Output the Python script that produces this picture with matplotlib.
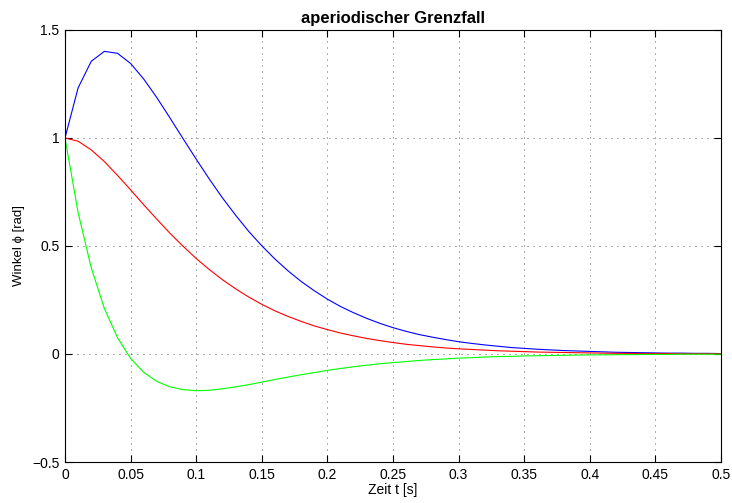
import numpy as np
import matplotlib.pyplot as plt

plt.rcParams['font.family'] = ['Liberation Sans', 'DejaVu Sans']
plt.rcParams['font.size'] = 10

# Zeitachse, Schrittweite 0.01 s
t = np.arange(51) * 0.01

# Winkel phi(t) fuer drei Anfangsgeschwindigkeiten
phi_pos = [1.000, 1.232, 1.355, 1.401, 1.392, 1.345, 1.273, 1.187, 1.093, 0.997,
           0.902, 0.810, 0.723, 0.643, 0.568, 0.501, 0.440, 0.385, 0.336, 0.293,
           0.254, 0.220, 0.191, 0.165, 0.142, 0.122, 0.105, 0.090, 0.078, 0.067,
           0.057, 0.049, 0.042, 0.036, 0.030, 0.026, 0.022, 0.019, 0.016, 0.014,
           0.012, 0.010, 0.008, 0.007, 0.006, 0.005, 0.004, 0.004, 0.003, 0.003,
           0.002]
phi_null = [1.000, 0.985, 0.945, 0.891, 0.827, 0.760, 0.691, 0.624, 0.559, 0.499,
            0.442, 0.391, 0.344, 0.302, 0.264, 0.230, 0.200, 0.174, 0.151, 0.130,
            0.113, 0.097, 0.084, 0.072, 0.062, 0.053, 0.045, 0.039, 0.033, 0.028,
            0.024, 0.021, 0.018, 0.015, 0.013, 0.011, 0.009, 0.008, 0.007, 0.006,
            0.005, 0.004, 0.003, 0.003, 0.002, 0.002, 0.002, 0.001, 0.001, 0.001,
            0.001]
phi_neg = [1.000, 0.655, 0.399, 0.211, 0.076, -0.020, -0.085, -0.127, -0.152, -0.165,
           -0.170, -0.168, -0.161, -0.152, -0.142, -0.130, -0.118, -0.107, -0.096, -0.086,
           -0.076, -0.067, -0.059, -0.052, -0.045, -0.040, -0.035, -0.030, -0.026, -0.023,
           -0.019, -0.017, -0.014, -0.012, -0.011, -0.009, -0.008, -0.007, -0.006, -0.005,
           -0.004, -0.004, -0.003, -0.003, -0.002, -0.002, -0.002, -0.001, -0.001, -0.001,
           -0.001]

xticks = [0, 0.05, 0.1, 0.15, 0.2, 0.25, 0.3, 0.35, 0.4, 0.45, 0.5]
xticklabels = ['0', '0.05', '0.1', '0.15', '0.2', '0.25', '0.3', '0.35', '0.4', '0.45', '0.5']
yticks = [-0.5, 0, 0.5, 1, 1.5]
yticklabels = ['\u22120.5', '0', '0.5', '1', '1.5']

fig = plt.figure(figsize=(7.32, 5.03), dpi=100)
ax = fig.add_axes([0.0888, 0.0815, 0.896, 0.8589])

ax.plot(t, phi_pos, color='#0000ff', lw=0.8)
ax.plot(t, phi_null, color='#ff0000', lw=0.8)
ax.plot(t, phi_neg, color='#00ff00', lw=0.8)

ax.set_xlim(0, 0.5)
ax.set_ylim(-0.5, 1.5)
ax.set_xticks(xticks)
ax.set_xticklabels(xticklabels)
ax.set_yticks(yticks)
ax.set_yticklabels(yticklabels)

ax.grid(True, color='#444444', lw=0.6, linestyle=(0, (1.2, 6)))
ax.tick_params(direction='in', length=5, width=0.8, top=True, right=True,
               labelsize=10, pad=4)
for s in ax.spines.values():
    s.set_linewidth(0.8)

ax.set_title('aperiodischer Grenzfall', fontweight='bold', fontsize=12, pad=5)
ax.set_xlabel('Zeit t [s]', labelpad=1)
ax.set_ylabel('Winkel \u03d5 [rad]', fontsize=9.5, labelpad=5)

fig.savefig('out.png', dpi=100)
